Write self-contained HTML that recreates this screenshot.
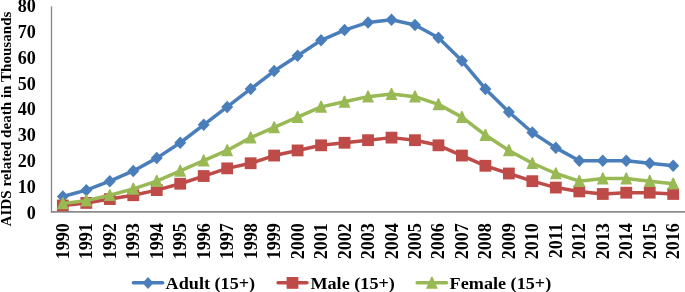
<!DOCTYPE html><html><head><meta charset="utf-8"><style>html,body{margin:0;padding:0;background:#fff;}body{width:685px;height:292px;overflow:hidden;}svg{display:block;filter:blur(0.35px);}text{font-family:"Liberation Serif",serif;font-weight:bold;fill:#000;}</style></head><body>
<svg width="685" height="292" viewBox="0 0 685 292">
<rect width="685" height="292" fill="#fff"/>
<line x1="51.50" y1="6.30" x2="51.50" y2="212.70" stroke="#868686" stroke-width="1.3"/>
<line x1="50.90" y1="211.90" x2="685.00" y2="211.90" stroke="#8c8c8c" stroke-width="1.7"/>
<text transform="translate(35.85,218.50) scale(0.93,1)" font-size="19.5" text-anchor="end">0</text>
<text transform="translate(35.85,192.74) scale(0.93,1)" font-size="19.5" text-anchor="end">10</text>
<text transform="translate(35.85,166.98) scale(0.93,1)" font-size="19.5" text-anchor="end">20</text>
<text transform="translate(35.85,141.22) scale(0.93,1)" font-size="19.5" text-anchor="end">30</text>
<text transform="translate(35.85,115.46) scale(0.93,1)" font-size="19.5" text-anchor="end">40</text>
<text transform="translate(35.85,89.70) scale(0.93,1)" font-size="19.5" text-anchor="end">50</text>
<text transform="translate(35.85,63.94) scale(0.93,1)" font-size="19.5" text-anchor="end">60</text>
<text transform="translate(35.85,38.18) scale(0.93,1)" font-size="19.5" text-anchor="end">70</text>
<text transform="translate(35.85,12.42) scale(0.93,1)" font-size="19.5" text-anchor="end">80</text>
<text transform="translate(11.0,119.0) rotate(-90) scale(1.085,1)" font-size="13.9" text-anchor="middle">AIDS related death in Thousands</text>
<text transform="translate(68.85,223.1) rotate(-90) scale(1.005,1)" font-size="18" text-anchor="end">1990</text>
<text transform="translate(92.33,223.1) rotate(-90) scale(1.005,1)" font-size="18" text-anchor="end">1991</text>
<text transform="translate(115.80,223.1) rotate(-90) scale(1.005,1)" font-size="18" text-anchor="end">1992</text>
<text transform="translate(139.28,223.1) rotate(-90) scale(1.005,1)" font-size="18" text-anchor="end">1993</text>
<text transform="translate(162.75,223.1) rotate(-90) scale(1.005,1)" font-size="18" text-anchor="end">1994</text>
<text transform="translate(186.22,223.1) rotate(-90) scale(1.005,1)" font-size="18" text-anchor="end">1995</text>
<text transform="translate(209.70,223.1) rotate(-90) scale(1.005,1)" font-size="18" text-anchor="end">1996</text>
<text transform="translate(233.18,223.1) rotate(-90) scale(1.005,1)" font-size="18" text-anchor="end">1997</text>
<text transform="translate(256.65,223.1) rotate(-90) scale(1.005,1)" font-size="18" text-anchor="end">1998</text>
<text transform="translate(280.12,223.1) rotate(-90) scale(1.005,1)" font-size="18" text-anchor="end">1999</text>
<text transform="translate(303.60,223.1) rotate(-90) scale(1.005,1)" font-size="18" text-anchor="end">2000</text>
<text transform="translate(327.08,223.1) rotate(-90) scale(1.005,1)" font-size="18" text-anchor="end">2001</text>
<text transform="translate(350.55,223.1) rotate(-90) scale(1.005,1)" font-size="18" text-anchor="end">2002</text>
<text transform="translate(374.03,223.1) rotate(-90) scale(1.005,1)" font-size="18" text-anchor="end">2003</text>
<text transform="translate(397.50,223.1) rotate(-90) scale(1.005,1)" font-size="18" text-anchor="end">2004</text>
<text transform="translate(420.98,223.1) rotate(-90) scale(1.005,1)" font-size="18" text-anchor="end">2005</text>
<text transform="translate(444.45,223.1) rotate(-90) scale(1.005,1)" font-size="18" text-anchor="end">2006</text>
<text transform="translate(467.93,223.1) rotate(-90) scale(1.005,1)" font-size="18" text-anchor="end">2007</text>
<text transform="translate(491.40,223.1) rotate(-90) scale(1.005,1)" font-size="18" text-anchor="end">2008</text>
<text transform="translate(514.88,223.1) rotate(-90) scale(1.005,1)" font-size="18" text-anchor="end">2009</text>
<text transform="translate(538.35,223.1) rotate(-90) scale(1.005,1)" font-size="18" text-anchor="end">2010</text>
<text transform="translate(561.83,223.1) rotate(-90) scale(1.005,1)" font-size="18" text-anchor="end">2011</text>
<text transform="translate(585.30,223.1) rotate(-90) scale(1.005,1)" font-size="18" text-anchor="end">2012</text>
<text transform="translate(608.78,223.1) rotate(-90) scale(1.005,1)" font-size="18" text-anchor="end">2013</text>
<text transform="translate(632.25,223.1) rotate(-90) scale(1.005,1)" font-size="18" text-anchor="end">2014</text>
<text transform="translate(655.73,223.1) rotate(-90) scale(1.005,1)" font-size="18" text-anchor="end">2015</text>
<text transform="translate(679.20,223.1) rotate(-90) scale(1.005,1)" font-size="18" text-anchor="end">2016</text>
<polyline points="62.85,196.53 86.33,190.13 109.80,181.17 133.28,170.92 156.75,158.12 180.22,142.75 203.70,124.83 227.18,106.90 250.65,88.97 274.12,71.05 297.60,55.68 321.08,40.31 344.55,30.07 368.03,22.39 391.50,19.83 414.98,24.95 438.45,37.75 461.93,60.80 485.40,88.97 508.88,112.02 532.35,132.51 555.83,147.88 579.30,160.68 602.78,160.68 626.25,160.68 649.73,163.24 673.20,165.80" fill="none" stroke="#4a7ebb" stroke-width="3.5" stroke-linejoin="round" stroke-linecap="round"/>
<path d="M62.85 190.28 L68.85 196.53 L62.85 202.78 L56.85 196.53 Z" fill="#4a7ebb"/>
<path d="M86.33 183.88 L92.33 190.13 L86.33 196.38 L80.33 190.13 Z" fill="#4a7ebb"/>
<path d="M109.80 174.92 L115.80 181.17 L109.80 187.42 L103.80 181.17 Z" fill="#4a7ebb"/>
<path d="M133.28 164.67 L139.28 170.92 L133.28 177.17 L127.28 170.92 Z" fill="#4a7ebb"/>
<path d="M156.75 151.87 L162.75 158.12 L156.75 164.37 L150.75 158.12 Z" fill="#4a7ebb"/>
<path d="M180.22 136.50 L186.22 142.75 L180.22 149.00 L174.22 142.75 Z" fill="#4a7ebb"/>
<path d="M203.70 118.58 L209.70 124.83 L203.70 131.08 L197.70 124.83 Z" fill="#4a7ebb"/>
<path d="M227.18 100.65 L233.18 106.90 L227.18 113.15 L221.18 106.90 Z" fill="#4a7ebb"/>
<path d="M250.65 82.72 L256.65 88.97 L250.65 95.22 L244.65 88.97 Z" fill="#4a7ebb"/>
<path d="M274.12 64.80 L280.12 71.05 L274.12 77.30 L268.12 71.05 Z" fill="#4a7ebb"/>
<path d="M297.60 49.43 L303.60 55.68 L297.60 61.93 L291.60 55.68 Z" fill="#4a7ebb"/>
<path d="M321.08 34.06 L327.08 40.31 L321.08 46.56 L315.08 40.31 Z" fill="#4a7ebb"/>
<path d="M344.55 23.82 L350.55 30.07 L344.55 36.32 L338.55 30.07 Z" fill="#4a7ebb"/>
<path d="M368.03 16.14 L374.03 22.39 L368.03 28.64 L362.03 22.39 Z" fill="#4a7ebb"/>
<path d="M391.50 13.58 L397.50 19.83 L391.50 26.08 L385.50 19.83 Z" fill="#4a7ebb"/>
<path d="M414.98 18.70 L420.98 24.95 L414.98 31.20 L408.98 24.95 Z" fill="#4a7ebb"/>
<path d="M438.45 31.50 L444.45 37.75 L438.45 44.00 L432.45 37.75 Z" fill="#4a7ebb"/>
<path d="M461.93 54.55 L467.93 60.80 L461.93 67.05 L455.93 60.80 Z" fill="#4a7ebb"/>
<path d="M485.40 82.72 L491.40 88.97 L485.40 95.22 L479.40 88.97 Z" fill="#4a7ebb"/>
<path d="M508.88 105.77 L514.88 112.02 L508.88 118.27 L502.88 112.02 Z" fill="#4a7ebb"/>
<path d="M532.35 126.26 L538.35 132.51 L532.35 138.76 L526.35 132.51 Z" fill="#4a7ebb"/>
<path d="M555.83 141.62 L561.83 147.88 L555.83 154.12 L549.83 147.88 Z" fill="#4a7ebb"/>
<path d="M579.30 154.43 L585.30 160.68 L579.30 166.93 L573.30 160.68 Z" fill="#4a7ebb"/>
<path d="M602.78 154.43 L608.78 160.68 L602.78 166.93 L596.78 160.68 Z" fill="#4a7ebb"/>
<path d="M626.25 154.43 L632.25 160.68 L626.25 166.93 L620.25 160.68 Z" fill="#4a7ebb"/>
<path d="M649.73 156.99 L655.73 163.24 L649.73 169.49 L643.73 163.24 Z" fill="#4a7ebb"/>
<path d="M673.20 159.55 L679.20 165.80 L673.20 172.05 L667.20 165.80 Z" fill="#4a7ebb"/>
<polyline points="62.85,205.50 86.33,202.94 109.80,199.09 133.28,195.25 156.75,190.13 180.22,183.73 203.70,176.05 227.18,168.36 250.65,163.24 274.12,155.56 297.60,150.44 321.08,145.31 344.55,142.75 368.03,140.19 391.50,137.63 414.98,140.19 438.45,145.31 461.93,155.56 485.40,165.80 508.88,173.49 532.35,181.17 555.83,187.57 579.30,191.41 602.78,193.97 626.25,192.69 649.73,192.69 673.20,193.97" fill="none" stroke="#be4b48" stroke-width="3.5" stroke-linejoin="round" stroke-linecap="round"/>
<rect x="56.95" y="199.60" width="11.80" height="11.80" fill="#be4b48"/>
<rect x="80.42" y="197.04" width="11.80" height="11.80" fill="#be4b48"/>
<rect x="103.90" y="193.19" width="11.80" height="11.80" fill="#be4b48"/>
<rect x="127.38" y="189.35" width="11.80" height="11.80" fill="#be4b48"/>
<rect x="150.85" y="184.23" width="11.80" height="11.80" fill="#be4b48"/>
<rect x="174.32" y="177.83" width="11.80" height="11.80" fill="#be4b48"/>
<rect x="197.80" y="170.15" width="11.80" height="11.80" fill="#be4b48"/>
<rect x="221.28" y="162.46" width="11.80" height="11.80" fill="#be4b48"/>
<rect x="244.75" y="157.34" width="11.80" height="11.80" fill="#be4b48"/>
<rect x="268.23" y="149.66" width="11.80" height="11.80" fill="#be4b48"/>
<rect x="291.70" y="144.54" width="11.80" height="11.80" fill="#be4b48"/>
<rect x="315.18" y="139.41" width="11.80" height="11.80" fill="#be4b48"/>
<rect x="338.65" y="136.85" width="11.80" height="11.80" fill="#be4b48"/>
<rect x="362.13" y="134.29" width="11.80" height="11.80" fill="#be4b48"/>
<rect x="385.60" y="131.73" width="11.80" height="11.80" fill="#be4b48"/>
<rect x="409.08" y="134.29" width="11.80" height="11.80" fill="#be4b48"/>
<rect x="432.55" y="139.41" width="11.80" height="11.80" fill="#be4b48"/>
<rect x="456.03" y="149.66" width="11.80" height="11.80" fill="#be4b48"/>
<rect x="479.50" y="159.90" width="11.80" height="11.80" fill="#be4b48"/>
<rect x="502.98" y="167.59" width="11.80" height="11.80" fill="#be4b48"/>
<rect x="526.45" y="175.27" width="11.80" height="11.80" fill="#be4b48"/>
<rect x="549.93" y="181.67" width="11.80" height="11.80" fill="#be4b48"/>
<rect x="573.40" y="185.51" width="11.80" height="11.80" fill="#be4b48"/>
<rect x="596.88" y="188.07" width="11.80" height="11.80" fill="#be4b48"/>
<rect x="620.35" y="186.79" width="11.80" height="11.80" fill="#be4b48"/>
<rect x="643.83" y="186.79" width="11.80" height="11.80" fill="#be4b48"/>
<rect x="667.30" y="188.07" width="11.80" height="11.80" fill="#be4b48"/>
<polyline points="62.85,203.45 86.33,200.63 109.80,195.25 133.28,188.85 156.75,181.17 180.22,170.92 203.70,160.68 227.18,150.44 250.65,137.63 274.12,127.39 297.60,117.14 321.08,106.90 344.55,101.78 368.03,96.66 391.50,94.09 414.98,96.66 438.45,104.34 461.93,117.14 485.40,135.07 508.88,150.44 532.35,163.24 555.83,173.49 579.30,181.17 602.78,178.61 626.25,178.61 649.73,181.17 673.20,183.73" fill="none" stroke="#98b954" stroke-width="3.5" stroke-linejoin="round" stroke-linecap="round"/>
<path d="M62.25 197.35 L63.45 197.35 L68.80 209.30 L56.90 209.30 Z" fill="#98b954"/>
<path d="M85.73 194.53 L86.92 194.53 L92.28 206.48 L80.38 206.48 Z" fill="#98b954"/>
<path d="M109.20 189.15 L110.40 189.15 L115.75 201.10 L103.85 201.10 Z" fill="#98b954"/>
<path d="M132.68 182.75 L133.88 182.75 L139.22 194.70 L127.33 194.70 Z" fill="#98b954"/>
<path d="M156.15 175.07 L157.35 175.07 L162.70 187.02 L150.80 187.02 Z" fill="#98b954"/>
<path d="M179.62 164.82 L180.82 164.82 L186.17 176.77 L174.28 176.77 Z" fill="#98b954"/>
<path d="M203.10 154.58 L204.30 154.58 L209.65 166.53 L197.75 166.53 Z" fill="#98b954"/>
<path d="M226.58 144.34 L227.78 144.34 L233.12 156.29 L221.23 156.29 Z" fill="#98b954"/>
<path d="M250.05 131.53 L251.25 131.53 L256.60 143.48 L244.70 143.48 Z" fill="#98b954"/>
<path d="M273.52 121.29 L274.73 121.29 L280.07 133.24 L268.18 133.24 Z" fill="#98b954"/>
<path d="M297.00 111.04 L298.20 111.04 L303.55 122.99 L291.65 122.99 Z" fill="#98b954"/>
<path d="M320.48 100.80 L321.68 100.80 L327.03 112.75 L315.13 112.75 Z" fill="#98b954"/>
<path d="M343.95 95.68 L345.15 95.68 L350.50 107.63 L338.60 107.63 Z" fill="#98b954"/>
<path d="M367.43 90.56 L368.63 90.56 L373.98 102.50 L362.08 102.50 Z" fill="#98b954"/>
<path d="M390.90 87.99 L392.10 87.99 L397.45 99.94 L385.55 99.94 Z" fill="#98b954"/>
<path d="M414.38 90.56 L415.58 90.56 L420.93 102.50 L409.03 102.50 Z" fill="#98b954"/>
<path d="M437.85 98.24 L439.05 98.24 L444.40 110.19 L432.50 110.19 Z" fill="#98b954"/>
<path d="M461.33 111.04 L462.53 111.04 L467.88 122.99 L455.98 122.99 Z" fill="#98b954"/>
<path d="M484.80 128.97 L486.00 128.97 L491.35 140.92 L479.45 140.92 Z" fill="#98b954"/>
<path d="M508.28 144.34 L509.48 144.34 L514.83 156.29 L502.93 156.29 Z" fill="#98b954"/>
<path d="M531.75 157.14 L532.95 157.14 L538.30 169.09 L526.40 169.09 Z" fill="#98b954"/>
<path d="M555.23 167.39 L556.43 167.39 L561.78 179.34 L549.88 179.34 Z" fill="#98b954"/>
<path d="M578.70 175.07 L579.90 175.07 L585.25 187.02 L573.35 187.02 Z" fill="#98b954"/>
<path d="M602.18 172.51 L603.38 172.51 L608.73 184.46 L596.83 184.46 Z" fill="#98b954"/>
<path d="M625.65 172.51 L626.85 172.51 L632.20 184.46 L620.30 184.46 Z" fill="#98b954"/>
<path d="M649.12 175.07 L650.33 175.07 L655.68 187.02 L643.77 187.02 Z" fill="#98b954"/>
<path d="M672.60 177.63 L673.80 177.63 L679.15 189.58 L667.25 189.58 Z" fill="#98b954"/>
<line x1="133.35" y1="282.80" x2="162.65" y2="282.80" stroke="#4a7ebb" stroke-width="3.5" stroke-linecap="round"/>
<path d="M148.00 276.90 L153.50 282.90 L148.00 288.90 L142.50 282.90 Z" fill="#4a7ebb"/>
<text transform="translate(165.60,288.80) scale(1.033,1)" font-size="17.6">Adult (15+)</text>
<line x1="278.05" y1="282.80" x2="306.95" y2="282.80" stroke="#be4b48" stroke-width="3.5" stroke-linecap="round"/>
<rect x="286.60" y="277.00" width="11.80" height="11.80" fill="#be4b48"/>
<text transform="translate(310.40,288.80) scale(1.033,1)" font-size="17.6">Male (15+)</text>
<line x1="417.15" y1="282.80" x2="446.55" y2="282.80" stroke="#98b954" stroke-width="3.5" stroke-linecap="round"/>
<path d="M431.30 276.80 L432.50 276.80 L437.85 288.75 L425.95 288.75 Z" fill="#98b954"/>
<text transform="translate(449.60,288.80) scale(1.033,1)" font-size="17.6">Female (15+)</text>
</svg></body></html>
